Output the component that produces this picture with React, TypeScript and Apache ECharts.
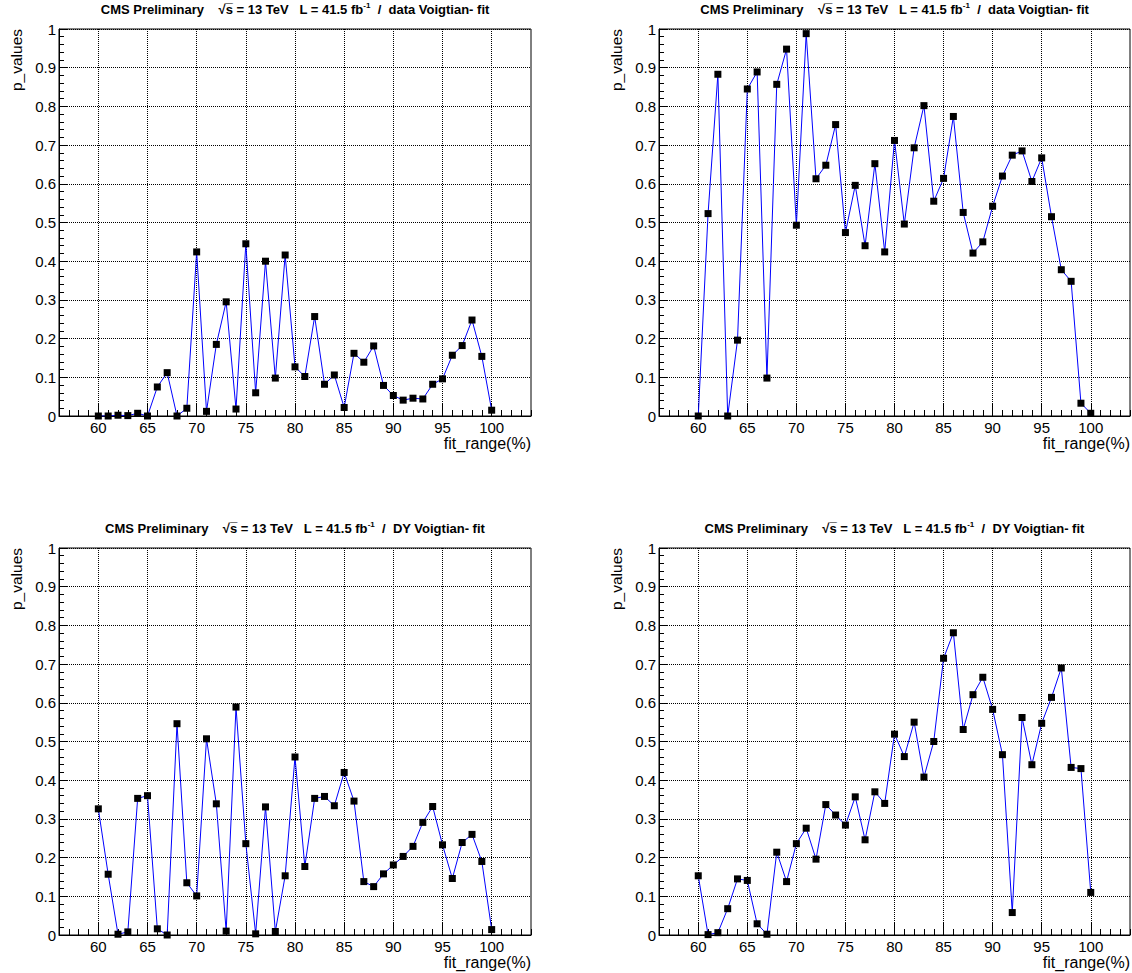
import React, { useEffect, useRef } from "react";
import * as echarts from "echarts";

const xValues = [60, 61, 62, 63, 64, 65, 66, 67, 68, 69, 70, 71, 72, 73, 74, 75, 76, 77, 78, 79, 80, 81, 82, 83, 84, 85, 86, 87, 88, 89, 90, 91, 92, 93, 94, 95, 96, 97, 98, 99, 100];
const xMajorTicks = [60, 65, 70, 75, 80, 85, 90, 95, 100];

const dataVoigtianA = [
  0, 0, 0.002, 0.001, 0.007, 0, 0.075, 0.112, 0, 0.02,
  0.424, 0.012, 0.185, 0.295, 0.018, 0.445, 0.06, 0.4, 0.098, 0.416,
  0.127, 0.102, 0.257, 0.082, 0.106, 0.022, 0.162, 0.139, 0.181, 0.079,
  0.053, 0.041, 0.046, 0.044, 0.082, 0.096, 0.157, 0.182, 0.248, 0.154,
  0.015,
];
const dataVoigtianB = [
  0, 0.523, 0.883, 0, 0.196, 0.845, 0.889, 0.098, 0.857, 0.948,
  0.493, 0.988, 0.613, 0.648, 0.753, 0.474, 0.596, 0.44, 0.652, 0.424,
  0.712, 0.496, 0.693, 0.802, 0.555, 0.614, 0.774, 0.526, 0.421, 0.45,
  0.542, 0.62, 0.674, 0.685, 0.606, 0.667, 0.515, 0.378, 0.348, 0.033,
  0.007,
];
const dyVoigtianA = [
  0.326, 0.157, 0.002, 0.008, 0.353, 0.36, 0.016, 0, 0.546, 0.135,
  0.101, 0.507, 0.339, 0.01, 0.589, 0.236, 0.003, 0.331, 0.009, 0.153,
  0.46, 0.177, 0.353, 0.358, 0.334, 0.42, 0.346, 0.138, 0.125, 0.158,
  0.181, 0.203, 0.229, 0.291, 0.332, 0.233, 0.146, 0.239, 0.26, 0.19,
  0.014,
];
const dyVoigtianB = [
  0.153, 0.001, 0.006, 0.068, 0.145, 0.141, 0.029, 0.002, 0.214, 0.138,
  0.236, 0.276, 0.196, 0.337, 0.31, 0.284, 0.357, 0.246, 0.37, 0.34,
  0.519, 0.461, 0.55, 0.408, 0.5, 0.715, 0.781, 0.531, 0.621, 0.666,
  0.583, 0.466, 0.058, 0.562, 0.44, 0.547, 0.614, 0.69, 0.433, 0.43,
  0.11,
];

const panelSeries = [dataVoigtianA, dataVoigtianB, dyVoigtianA, dyVoigtianB];
const panelSample = ["data", "data", "DY", "DY"];
const xTitle = "fit_range(%)";
const yTitle = "p_values";

const FONT = '"Liberation Sans", Arial, Helvetica, sans-serif';

const grids = [
  { left: 59, top: 29, width: 472, height: 387 },
  { left: 659, top: 29, width: 471, height: 387 },
  { left: 59, top: 548, width: 472, height: 387 },
  { left: 659, top: 548, width: 471, height: 387 },
];

export default function App() {
  const ref = useRef<HTMLDivElement>(null);
  useEffect(() => {
    if (!ref.current) return;
    const chart = echarts.init(ref.current, null, { renderer: "svg" });
    const black = "#000";
    const xAxes: any[] = [];
    const yAxes: any[] = [];
    const series: any[] = [];
    const graphics: any[] = [];
    grids.forEach((g, i) => {
      xAxes.push({
        type: "value",
        gridIndex: i,
        min: 56,
        max: 104,
        interval: 1,
        axisLine: { show: true, onZero: false, lineStyle: { color: black, width: 1 } },
        axisTick: { show: true, inside: true, length: 6, lineStyle: { color: black } },
        axisLabel: { show: false },
        splitLine: { show: false },
      });
      xAxes.push({
        type: "value",
        gridIndex: i,
        min: 56,
        max: 104,
        position: "bottom",
        axisLine: { show: false, onZero: false },
        axisTick: { show: true, inside: true, length: 12, customValues: xMajorTicks, lineStyle: { color: black } },
        axisLabel: {
          show: true,
          customValues: xMajorTicks,
          color: black,
          fontSize: 15,
          fontFamily: FONT,
          margin: 4,
        },
        splitLine: { show: true, lineStyle: { color: black, type: "dotted", width: 1 } },
      });
      yAxes.push({
        type: "value",
        gridIndex: i,
        min: 0,
        max: 1,
        interval: 0.1,
        axisLine: { show: true, onZero: false, lineStyle: { color: black, width: 1 } },
        axisTick: { show: true, inside: true, length: 9, lineStyle: { color: black } },
        minorTick: { show: true, splitNumber: 5, length: 5, lineStyle: { color: black } },
        axisLabel: {
          color: black,
          fontSize: 15,
          fontFamily: FONT,
          margin: 3,
          formatter: (v: number) => String(Math.round(v * 10) / 10),
        },
        splitLine: { show: true, lineStyle: { color: black, type: "dotted", width: 1 } },
      });
      series.push({
        type: "line",
        xAxisIndex: 2 * i,
        yAxisIndex: i,
        data: xValues.map((x, k) => [x, panelSeries[i][k]]),
        symbol: "rect",
        symbolSize: 7,
        showAllSymbol: true,
        itemStyle: { color: black },
        lineStyle: { color: "#0000ff", width: 1 },
        z: 5,
      });
      const cx = g.left + g.width / 2;
      graphics.push({
        type: "text",
        x: cx,
        y: g.top - 20,
        style: {
          text: `{b|CMS Preliminary    √s\u0305 = 13 TeV   L = 41.5 fb}{s|-1}{b|  /  ${panelSample[i]} Voigtian- fit}`,
          align: "center",
          verticalAlign: "middle",
          rich: {
            b: { fontSize: 13, fontWeight: "bold", fontFamily: FONT, fill: black, lineHeight: 16 },
            s: { fontSize: 8, fontWeight: "bold", fontFamily: FONT, fill: black, lineHeight: 16, verticalAlign: "top", padding: [0, 0, 6, 0] },
          },
        },
      });
      graphics.push({
        type: "text",
        x: g.left + g.width,
        y: g.top + g.height + 27,
        style: {
          text: xTitle,
          align: "right",
          verticalAlign: "middle",
          font: `16px ${FONT}`,
          fill: black,
        },
      });
      graphics.push({
        type: "text",
        x: g.left - 43,
        y: g.top,
        rotation: Math.PI / 2,
        style: {
          text: yTitle,
          align: "right",
          verticalAlign: "middle",
          font: `15.5px ${FONT}`,
          fill: black,
        },
      });
    });

    chart.setOption({
      animation: false,
      backgroundColor: "#fff",
      grid: grids.map((g) => ({ ...g, show: true, borderColor: black, borderWidth: 1, backgroundColor: "transparent" })),
      xAxis: xAxes,
      yAxis: yAxes,
      series,
      graphic: graphics,
    });
    return () => chart.dispose();
  }, []);
  return <div ref={ref} style={{ position: "absolute", left: 0, top: 0, width: 1132, height: 973 }} />;
}
